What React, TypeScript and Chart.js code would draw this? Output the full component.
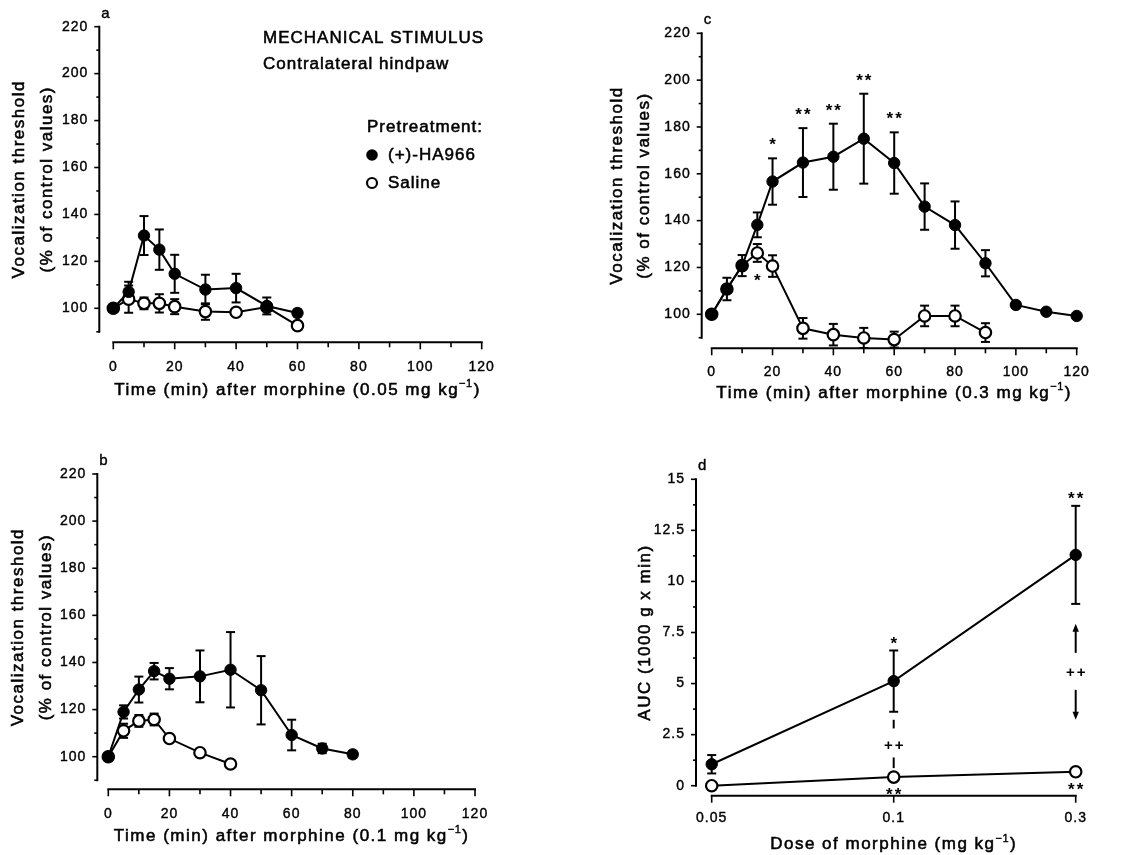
import React, { useEffect, useRef } from 'react';
import { Chart, registerables } from 'chart.js';

Chart.register(...registerables);

const FONT = '"Liberation Sans", Arial, Helvetica, sans-serif';

// ---------------- tick labels / categories ----------------
const timeTickLabels = ['0', '20', '40', '60', '80', '100', '120'];
const timeMinorTicks = [10, 30, 50, 70, 90, 110];
const thresholdTickLabels = ['100', '120', '140', '160', '180', '200', '220'];
const thresholdMinorTicks = [90, 110, 130, 150, 170, 190, 210];
const aucTickLabels = ['0', '2.5', '5', '7.5', '10', '12.5', '15'];
const aucMinorTicks = [1.25, 3.75, 6.25, 8.75, 11.25, 13.75];
const doseLabels = ['0.05', '0.1', '0.3'];

// ---------------- panel a : 0.05 mg/kg ----------------
const timeA = [0, 5, 10, 15, 20, 30, 40, 50, 60];
const haA = [100, 107, 131, 125, 114.7, 108, 108.6, 101, 98];
const haAErr = [0, 4.3, 8.3, 8.6, 8.1, 6.3, 6.1, 3.6, 1.5];
const salA = [100, 103.9, 102.1, 102.1, 100.7, 98.6, 98.3, 100.5, 92.6];
const salAErr = [0, 5.8, 2.5, 3.9, 3.2, 3.5, 1.5, 1.5, 1];

// ---------------- panel b : 0.1 mg/kg ----------------
const timeBHa = [0, 5, 10, 15, 20, 30, 40, 50, 60, 70, 80];
const haB = [100, 119, 128.5, 136.3, 133.1, 134.1, 136.9, 128.2, 109.2, 103.5, 101];
const haBErr = [0, 2.8, 5.5, 3.5, 4.5, 11, 16, 14.5, 6.5, 2, 1.5];
const timeBSal = [0, 5, 10, 15, 20, 30, 40];
const salB = [100, 111, 115.2, 115.8, 107.7, 101.7, 96.9];
const salBErr = [0, 3, 2.5, 2.5, 1, 0.8, 0.8];

// ---------------- panel c : 0.3 mg/kg ----------------
const timeCHa = [0, 5, 10, 15, 20, 30, 40, 50, 60, 70, 80, 90, 100, 110, 120];
const haC = [100, 110.8, 120.8, 138.2, 156.7, 164.8, 167.3, 175, 164.6, 146, 138.1, 121.8, 104, 101.1, 99.3];
const haCErr = [0, 4.8, 4.5, 5.3, 9.9, 14.7, 14.1, 19.2, 13.1, 9.9, 10.1, 5.6, 1.2, 1, 0.8];
const timeCSal = [0, 5, 10, 15, 20, 30, 40, 50, 60, 70, 80, 90];
const salC = [100, 110.8, 120.8, 126.2, 120.6, 94, 91.3, 89.9, 89.2, 99.3, 99.3, 92.2];
const salCErr = [0, 0, 0, 3.8, 4.6, 4.4, 4.6, 4.3, 3.4, 4.4, 4.4, 4];
const sigCHaTimes = [20, 30, 40, 50, 60];
const sigCHaMarks = ['*', '**', '**', '**', '**'];
const sigCSalTimes = [15];
const sigCSalMarks = ['*'];

// ---------------- panel d : AUC ----------------
const aucHa = [1.05, 5.12, 11.3];
const aucHaErr = [0.45, 1.5, 2.4];
const aucSal = [0, 0.42, 0.68];
const aucSalErr = [0.05, 0.05, 0.05];
const sigDHaMarks = ['', '*', '**'];
const sigDSalMarks = ['', '**', '**'];
const sigDBetweenMarks = ['', '++', '++'];
const arrowDoseIndex = 2;

// ---------------- panel layout ----------------
type Series = { x: number[]; y: number[]; err: number[]; filled: boolean };
type PanelCfg = {
  box: { x: number; y: number; w: number; h: number };
  yAxisPx: number; x0Px: number; x1Px: number; x0Val: number; x1Val: number;
  yTopPx: number; yTopVal: number; yRefPx: number; yRefVal: number; xAxisPx: number;
  yAxisFrom: number; yAxisTo: number; yLabels: string[]; yMinor: number[];
  xAxisFrom: number; xAxisTo: number; xLabels: string[]; xValues: number[]; xMinor: number[];
  xLabelOff: number; xTitleOff: number;
  xTitle: [string, string, string]; yTitle: string[]; yTitleOffsets: number[];
  letter: string;
  series: Series[];
  extra?: (chart: any, p: PanelCfg) => void;
};

const yTitleTime = ['Vocalization threshold', '(% of control values)'];

function setSpacing(ctx: any, v: string) {
  try { ctx.letterSpacing = v; } catch (e) { /* ignore */ }
}

// fill + thin stroke to mimic the heavy print of the original
function bt(ctx: any, s: string, x: number, y: number, w = 0.55) {
  ctx.fillText(s, x, y);
  ctx.save();
  ctx.lineWidth = w;
  ctx.strokeStyle = '#000';
  ctx.strokeText(s, x, y);
  ctx.restore();
}

function starText(ctx: any, s: string, x: number, yc: number) {
  ctx.save();
  ctx.font = `bold 17px ${FONT}`;
  setSpacing(ctx, '2px');
  ctx.textAlign = 'center';
  ctx.textBaseline = 'alphabetic';
  ctx.fillText(s, x + 1, yc + 0.58 * 17);
  ctx.restore();
}

function plusText(ctx: any, s: string, x: number, yc: number) {
  ctx.save();
  ctx.font = `bold 15px ${FONT}`;
  setSpacing(ctx, '2px');
  ctx.textAlign = 'center';
  ctx.textBaseline = 'alphabetic';
  ctx.fillText(s, x + 1, yc + 0.35 * 15);
  ctx.restore();
}

function seg(ctx: any, x1: number, y1: number, x2: number, y2: number) {
  ctx.beginPath();
  ctx.moveTo(x1, y1);
  ctx.lineTo(x2, y2);
  ctx.stroke();
}

function extraA(chart: any, p: PanelCfg) {
  const ctx = chart.ctx;
  const ox = p.box.x, oy = p.box.y;
  ctx.save();
  ctx.fillStyle = '#000';
  ctx.strokeStyle = '#000';
  ctx.font = `17px ${FONT}`;
  setSpacing(ctx, '1px');
  ctx.textAlign = 'left';
  ctx.textBaseline = 'middle';
  bt(ctx, 'MECHANICAL STIMULUS', 263 - ox, 38 - oy);
  bt(ctx, 'Contralateral hindpaw', 263 - ox, 64 - oy);
  bt(ctx, 'Pretreatment:', 367 - ox, 127 - oy);
  bt(ctx, '(+)-HA966', 388 - ox, 155 - oy);
  bt(ctx, 'Saline', 388 - ox, 183 - oy);
  ctx.beginPath();
  ctx.arc(372 - ox, 155 - oy, 5.8, 0, Math.PI * 2);
  ctx.fill();
  ctx.beginPath();
  ctx.lineWidth = 2.2;
  ctx.fillStyle = '#fff';
  ctx.arc(372 - ox, 183 - oy, 5, 0, Math.PI * 2);
  ctx.fill();
  ctx.stroke();
  ctx.restore();
}

function extraC(chart: any, p: PanelCfg) {
  const ctx = chart.ctx;
  const xs = chart.scales.x, ys = chart.scales.y;
  ctx.save();
  ctx.fillStyle = '#000';
  sigCHaTimes.forEach((t, k) => {
    const i = timeCHa.indexOf(t);
    const top = ys.getPixelForValue(haC[i] + haCErr[i]);
    starText(ctx, sigCHaMarks[k], xs.getPixelForValue(t), top - 18);
  });
  sigCSalTimes.forEach((t, k) => {
    const i = timeCSal.indexOf(t);
    const bot = ys.getPixelForValue(salC[i] - salCErr[i]);
    starText(ctx, sigCSalMarks[k], xs.getPixelForValue(t), bot + 14);
  });
  ctx.restore();
}

function extraD(chart: any, p: PanelCfg) {
  const ctx = chart.ctx;
  const xs = chart.scales.x, ys = chart.scales.y;
  ctx.save();
  ctx.fillStyle = '#000';
  ctx.strokeStyle = '#000';
  ctx.lineWidth = 2;
  doseLabels.forEach((_, i) => {
    const px = xs.getPixelForValue(i);
    if (sigDHaMarks[i]) starText(ctx, sigDHaMarks[i], px, ys.getPixelForValue(aucHa[i] + aucHaErr[i]) - 11.5);
    if (sigDSalMarks[i]) starText(ctx, sigDSalMarks[i], px, ys.getPixelForValue(aucSal[i]) + 13.5);
    if (sigDBetweenMarks[i]) {
      const errBot = ys.getPixelForValue(aucHa[i] - aucHaErr[i]);
      const salPx = ys.getPixelForValue(aucSal[i]);
      if (i === arrowDoseIndex) {
        const cy = (errBot + salPx) / 2 - 16;
        plusText(ctx, sigDBetweenMarks[i], px, cy);
        seg(ctx, px, cy - 19, px, cy - 42);
        ctx.beginPath();
        ctx.moveTo(px, cy - 48); ctx.lineTo(px - 3.2, cy - 40); ctx.lineTo(px + 3.2, cy - 40); ctx.closePath(); ctx.fill();
        seg(ctx, px, cy + 18, px, cy + 42);
        ctx.beginPath();
        ctx.moveTo(px, cy + 48); ctx.lineTo(px - 3.2, cy + 40); ctx.lineTo(px + 3.2, cy + 40); ctx.closePath(); ctx.fill();
      } else {
        const cy = (errBot + salPx) / 2;
        plusText(ctx, sigDBetweenMarks[i], px, cy);
        seg(ctx, px, errBot + 8, px, cy - 16);
        seg(ctx, px, cy + 13, px, salPx - 9);
      }
    }
  });
  ctx.restore();
}

const timeXValues = timeTickLabels.map(Number);

const panelA: PanelCfg = {
  box: { x: 0, y: 0, w: 573, h: 427 },
  yAxisPx: 99.3, x0Px: 113.3, x1Px: 481.7, x0Val: 0, x1Val: 120,
  yTopPx: 26.7, yTopVal: 220, yRefPx: 308.3, yRefVal: 100, xAxisPx: 342.3,
  yAxisFrom: 90, yAxisTo: 220, yLabels: thresholdTickLabels, yMinor: thresholdMinorTicks,
  xAxisFrom: 0, xAxisTo: 120, xLabels: timeTickLabels, xValues: timeXValues, xMinor: timeMinorTicks,
  xLabelOff: 25, xTitleOff: 48,
  xTitle: ['Time (min) after morphine (0.05 mg kg', '\u22121', ')'],
  yTitle: yTitleTime, yTitleOffsets: [-80, -52], letter: 'a',
  series: [
    { x: timeA, y: haA, err: haAErr, filled: true },
    { x: timeA, y: salA, err: salAErr, filled: false },
  ],
  extra: extraA,
};

const panelB: PanelCfg = {
  box: { x: 0, y: 427, w: 573, h: 428 },
  yAxisPx: 97.3, x0Px: 108.3, x1Px: 475, x0Val: 0, x1Val: 120,
  yTopPx: 474, yTopVal: 220, yRefPx: 756.7, yRefVal: 100, xAxisPx: 789.3,
  yAxisFrom: 90, yAxisTo: 220, yLabels: thresholdTickLabels, yMinor: thresholdMinorTicks,
  xAxisFrom: 0, xAxisTo: 120, xLabels: timeTickLabels, xValues: timeXValues, xMinor: timeMinorTicks,
  xLabelOff: 25, xTitleOff: 47,
  xTitle: ['Time (min) after morphine (0.1 mg kg', '\u22121', ')'],
  yTitle: yTitleTime, yTitleOffsets: [-79, -51], letter: 'b',
  series: [
    { x: timeBHa, y: haB, err: haBErr, filled: true },
    { x: timeBSal, y: salB, err: salBErr, filled: false },
  ],
};

const panelC: PanelCfg = {
  box: { x: 573, y: 0, w: 574, h: 427 },
  yAxisPx: 701.7, x0Px: 711.7, x1Px: 1076.7, x0Val: 0, x1Val: 120,
  yTopPx: 33.3, yTopVal: 220, yRefPx: 314.3, yRefVal: 100, xAxisPx: 348.3,
  yAxisFrom: 90, yAxisTo: 220, yLabels: thresholdTickLabels, yMinor: thresholdMinorTicks,
  xAxisFrom: 0, xAxisTo: 120, xLabels: timeTickLabels, xValues: timeXValues, xMinor: timeMinorTicks,
  xLabelOff: 24, xTitleOff: 45,
  xTitle: ['Time (min) after morphine (0.3 mg kg', '\u22121', ')'],
  yTitle: yTitleTime, yTitleOffsets: [-84, -57], letter: 'c',
  series: [
    { x: timeCHa, y: haC, err: haCErr, filled: true },
    { x: timeCSal, y: salC, err: salCErr, filled: false },
  ],
  extra: extraC,
};

const doseIndex = doseLabels.map((_, i) => i);

const panelD: PanelCfg = {
  box: { x: 573, y: 427, w: 574, h: 428 },
  yAxisPx: 696, x0Px: 711.7, x1Px: 1075.7, x0Val: 0, x1Val: 2,
  yTopPx: 479.3, yTopVal: 15, yRefPx: 785.7, yRefVal: 0, xAxisPx: 795.7,
  yAxisFrom: 0, yAxisTo: 15, yLabels: aucTickLabels, yMinor: aucMinorTicks,
  xAxisFrom: 0, xAxisTo: 2, xLabels: doseLabels, xValues: doseIndex, xMinor: [],
  xLabelOff: 22, xTitleOff: 49,
  xTitle: ['Dose of morphine (mg kg', '\u22121', ')'],
  yTitle: ['AUC (1000 g x min)'], yTitleOffsets: [-51], letter: 'd',
  series: [
    { x: doseIndex, y: aucHa, err: aucHaErr, filled: true },
    { x: doseIndex, y: aucSal, err: aucSalErr, filled: false },
  ],
  extra: extraD,
};

const panels = [panelA, panelB, panelC, panelD];

function makePlugin(p: PanelCfg) {
  return {
    id: 'panelDecor' + p.letter,
    beforeDatasetsDraw(chart: any) {
      const ctx = chart.ctx;
      const xs = chart.scales.x, ys = chart.scales.y;
      const ax = chart.chartArea.left;
      const ay = chart.chartArea.bottom;
      ctx.save();
      ctx.strokeStyle = '#000';
      ctx.fillStyle = '#000';
      ctx.lineCap = 'butt';
      // y axis
      ctx.lineWidth = 2;
      seg(ctx, ax, ys.getPixelForValue(p.yAxisFrom) + 1, ax, ys.getPixelForValue(p.yAxisTo) - 1);
      ctx.lineWidth = 1.6;
      const yMajor = p.yLabels.map(Number);
      yMajor.forEach((v) => { const py = ys.getPixelForValue(v); seg(ctx, ax - 5, py, ax, py); });
      p.yMinor.forEach((v) => { const py = ys.getPixelForValue(v); seg(ctx, ax - 3, py, ax, py); });
      // x axis
      ctx.lineWidth = 2;
      seg(ctx, xs.getPixelForValue(p.xAxisFrom) - 1, ay, xs.getPixelForValue(p.xAxisTo) + 1, ay);
      ctx.lineWidth = 1.6;
      p.xValues.forEach((v) => { const px = xs.getPixelForValue(v); seg(ctx, px, ay, px, ay + 7); });
      p.xMinor.forEach((v) => { const px = xs.getPixelForValue(v); seg(ctx, px, ay, px, ay + 5); });
      // tick labels
      ctx.font = `14px ${FONT}`;
      setSpacing(ctx, '1px');
      ctx.textBaseline = 'middle';
      ctx.textAlign = 'right';
      p.yLabels.forEach((s, i) => bt(ctx, s, ax - 11, ys.getPixelForValue(yMajor[i]), 0.4));
      ctx.textAlign = 'center';
      p.xLabels.forEach((s, i) => bt(ctx, s, xs.getPixelForValue(p.xValues[i]), ay + p.xLabelOff, 0.4));
      // panel letter
      ctx.font = `15px ${FONT}`;
      ctx.textAlign = 'left';
      bt(ctx, p.letter, ax + 2, ys.getPixelForValue(p.yAxisTo) - 13, 0.4);
      // x title with superscript
      const cx = (xs.getPixelForValue(p.xAxisFrom) + xs.getPixelForValue(p.xAxisTo)) / 2;
      const ty = ay + p.xTitleOff;
      const big = `17px ${FONT}`, small = `11px ${FONT}`;
      setSpacing(ctx, '1.5px');
      ctx.font = big;
      const w1 = ctx.measureText(p.xTitle[0]).width;
      const w3 = ctx.measureText(p.xTitle[2]).width;
      ctx.font = small;
      setSpacing(ctx, '0.5px');
      const w2 = ctx.measureText(p.xTitle[1]).width + 1;
      let x = cx - (w1 + w2 + w3) / 2;
      ctx.textAlign = 'left';
      setSpacing(ctx, '1.5px');
      ctx.font = big;
      bt(ctx, p.xTitle[0], x, ty);
      x += w1;
      ctx.font = small;
      setSpacing(ctx, '0.5px');
      bt(ctx, p.xTitle[1], x, ty - 6, 0.4);
      x += w2;
      ctx.font = big;
      setSpacing(ctx, '1.5px');
      bt(ctx, p.xTitle[2], x, ty);
      // y title (rotated)
      const cy = (ys.getPixelForValue(p.yAxisFrom) + ys.getPixelForValue(p.yAxisTo)) / 2;
      p.yTitle.forEach((s, i) => {
        ctx.save();
        ctx.translate(ax + p.yTitleOffsets[i], cy);
        ctx.rotate(-Math.PI / 2);
        ctx.textAlign = 'center';
        ctx.font = big;
        bt(ctx, s, 0, 0);
        ctx.restore();
      });
      // error bars
      ctx.lineWidth = 2;
      p.series.forEach((s) => {
        s.x.forEach((xv, i) => {
          const e = s.err[i];
          if (!e) return;
          const px = xs.getPixelForValue(xv);
          const t = ys.getPixelForValue(s.y[i] + e);
          const b = ys.getPixelForValue(s.y[i] - e);
          seg(ctx, px, t, px, b);
          seg(ctx, px - 4.5, t, px + 4.5, t);
          seg(ctx, px - 4.5, b, px + 4.5, b);
        });
      });
      ctx.restore();
    },
    afterDatasetsDraw(chart: any) {
      if (p.extra) p.extra(chart, p);
    },
  };
}

function buildConfig(p: PanelCfg): any {
  const pxPerX = (p.x1Px - p.x0Px) / (p.x1Val - p.x0Val);
  const xMin = p.x0Val - (p.x0Px - p.yAxisPx) / pxPerX;
  const pxPerY = (p.yRefPx - p.yTopPx) / (p.yTopVal - p.yRefVal);
  const yMin = p.yRefVal - (p.xAxisPx - p.yRefPx) / pxPerY;
  return {
    type: 'line',
    data: {
      datasets: p.series.map((s) => ({
        data: s.x.map((x, i) => ({ x, y: s.y[i] })),
        borderColor: '#000',
        borderWidth: 2,
        pointRadius: 5.7,
        pointHoverRadius: 5.7,
        pointBackgroundColor: s.filled ? '#000' : '#fff',
        pointBorderColor: '#000',
        pointBorderWidth: s.filled ? 1 : 2.2,
        fill: false,
        tension: 0,
        clip: false,
      })),
    },
    options: {
      responsive: false,
      maintainAspectRatio: false,
      animation: false,
      events: [],
      layout: {
        padding: {
          left: p.yAxisPx - p.box.x,
          right: p.box.x + p.box.w - p.x1Px,
          top: p.yTopPx - p.box.y,
          bottom: p.box.y + p.box.h - p.xAxisPx,
        },
      },
      plugins: { legend: { display: false }, tooltip: { enabled: false }, title: { display: false } },
      scales: {
        x: { type: 'linear', min: xMin, max: p.x1Val, display: false },
        y: { type: 'linear', min: yMin, max: p.yTopVal, display: false },
      },
    },
    plugins: [makePlugin(p)],
  };
}

function Panel({ cfg }: { cfg: PanelCfg }) {
  const ref = useRef<HTMLCanvasElement>(null);
  useEffect(() => {
    if (!ref.current) return;
    const chart = new Chart(ref.current, buildConfig(cfg));
    return () => chart.destroy();
  }, [cfg]);
  return (
    <canvas
      ref={ref}
      width={cfg.box.w}
      height={cfg.box.h}
      style={{ position: 'absolute', left: cfg.box.x, top: cfg.box.y, width: cfg.box.w, height: cfg.box.h }}
    />
  );
}

export default function App() {
  return (
    <div style={{ position: 'absolute', left: 0, top: 0, width: 1147, height: 855, background: '#fff', overflow: 'hidden' }}>
      {panels.map((p) => (
        <Panel key={p.letter} cfg={p} />
      ))}
    </div>
  );
}
